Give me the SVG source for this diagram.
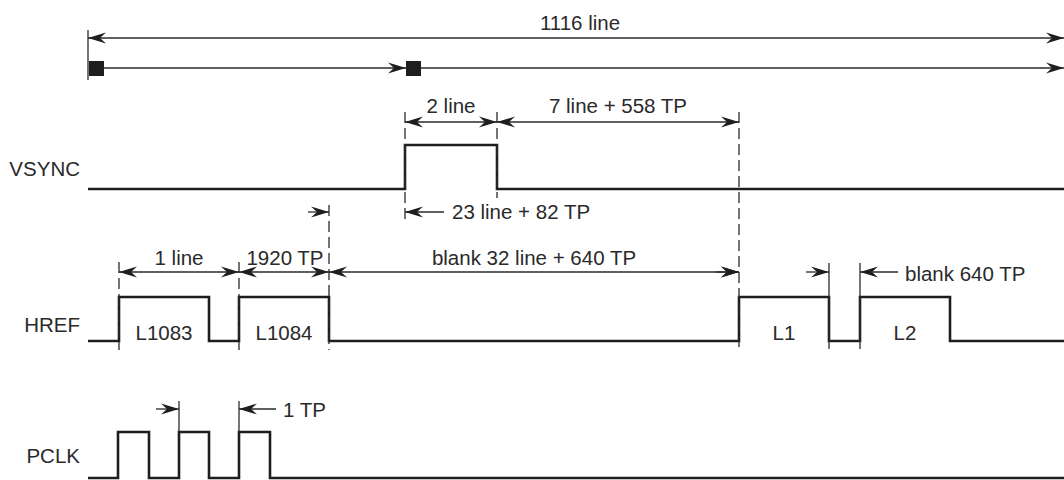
<svg xmlns="http://www.w3.org/2000/svg" width="1064" height="480" viewBox="0 0 1064 480">
<style>
.t{font-family:"Liberation Sans",Arial,sans-serif;font-size:20.5px;fill:#2a2a2a}
.m{text-anchor:middle}
.e{text-anchor:end}
.sig{fill:none;stroke:#1e1e1e;stroke-width:2.6;stroke-linejoin:miter}
.dim{fill:none;stroke:#2a2a2a;stroke-width:1.3}
.tick{fill:none;stroke:#2a2a2a;stroke-width:1.3}
.dash{fill:none;stroke:#2a2a2a;stroke-width:1.3;stroke-dasharray:11 5}
.ar{marker-end:url(#a)}
.al{marker-start:url(#a)}
.sq{fill:#1e1e1e}
</style>
<defs>
<marker id="a" viewBox="-19 -7 20 14" refX="0" refY="0" markerWidth="20" markerHeight="14" markerUnits="userSpaceOnUse" orient="auto-start-reverse">
<path d="M0,0 L-18,-5.5 L-12,0 L-18,5.5 Z" fill="#1e1e1e"/>
</marker>
</defs>

<g id="frame">
<line class="tick" x1="88" y1="30" x2="88" y2="80"/>
<rect class="sq" x="89" y="61" width="15" height="15"/>
<rect class="sq" x="406" y="61" width="15" height="15"/>
<text class="t m" x="580" y="30">1116 line</text>
</g>

<g id="vsync">
<text class="t e" x="80" y="176">VSYNC</text>
<polyline class="sig" points="88,189 405,189 405,145 497,145 497,189 1064,189"/>
<text class="t m" x="451" y="113">2 line</text>
<text class="t m" x="618" y="113">7 line + 558 TP</text>
<text class="t" x="452" y="219">23 line + 82 TP</text>
</g>

<g id="href">
<text class="t e" x="80" y="332">HREF</text>
<polyline class="sig" points="88,341 119,341 119,297 209,297 209,341 239,341 239,297 329,297 329,341 739,341 739,297 829,297 829,341 860,341 860,297 950,297 950,341 1064,341"/>
<text class="t m" x="164" y="340">L1083</text>
<text class="t m" x="284" y="340">L1084</text>
<text class="t m" x="784" y="340">L1</text>
<text class="t m" x="905" y="340">L2</text>
<text class="t m" x="179" y="265">1 line</text>
<text class="t m" x="285" y="265">1920 TP</text>
<text class="t m" x="534" y="265">blank 32 line + 640 TP</text>
<text class="t" x="905" y="281">blank 640 TP</text>
</g>

<g id="pclk">
<text class="t e" x="80" y="463">PCLK</text>
<polyline class="sig" points="88,478 118,478 118,432 149,432 149,478 179,478 179,432 209,432 209,478 239,478 239,432 270,432 270,478 1064,478"/>
<text class="t" x="283" y="417">1 TP</text>
</g>

<g id="connectors">
<line class="dim al ar" x1="88" y1="38" x2="1064" y2="38"/>
<line class="dim ar" x1="104" y1="68" x2="406" y2="68"/>
<line class="dim ar" x1="421" y1="68" x2="1064" y2="68"/>

<line class="dash" x1="405" y1="112" x2="405" y2="222"/>
<line class="dash" x1="497" y1="112" x2="497" y2="198"/>
<line class="dash" x1="739" y1="112" x2="739" y2="350"/>
<line class="dim al ar" x1="405" y1="122" x2="497" y2="122"/>
<line class="dim al ar" x1="497" y1="122" x2="739" y2="122"/>
<line class="dim al" x1="405" y1="212" x2="444" y2="212"/>

<line class="dash" x1="329" y1="205" x2="329" y2="350"/>
<line class="dim ar" x1="308" y1="212" x2="329" y2="212"/>
<line class="dash" x1="119" y1="262" x2="119" y2="350"/>
<line class="dash" x1="239" y1="262" x2="239" y2="350"/>
<line class="tick" x1="829" y1="263" x2="829" y2="349"/>
<line class="tick" x1="860" y1="263" x2="860" y2="349"/>
<line class="dim al ar" x1="119" y1="272" x2="239" y2="272"/>
<line class="dim al ar" x1="239" y1="272" x2="329" y2="272"/>
<line class="dim al ar" x1="329" y1="272" x2="739" y2="272"/>
<line class="dim ar" x1="716" y1="272" x2="739" y2="272"/>
<line class="dim ar" x1="806" y1="272" x2="829" y2="272"/>
<line class="dim al" x1="860" y1="272" x2="898" y2="272"/>

<line class="tick" x1="179" y1="401" x2="179" y2="432"/>
<line class="tick" x1="239" y1="401" x2="239" y2="432"/>
<line class="dim ar" x1="156" y1="409" x2="179" y2="409"/>
<line class="dim al" x1="239" y1="409" x2="276" y2="409"/>
</g>
</svg>
